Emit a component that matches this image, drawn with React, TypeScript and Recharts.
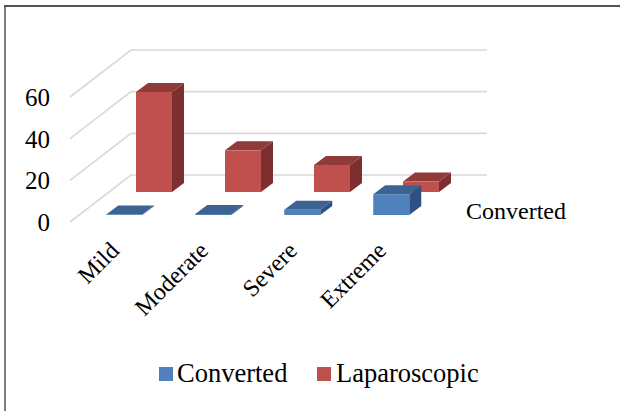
import React from "react";
import { BarChart, Bar, XAxis, YAxis, CartesianGrid, Legend } from "recharts";

const categories = ["Mild", "Moderate", "Severe", "Extreme"];
const converted = [0.3, 0.5, 2.5, 10];
const laparoscopic = [48, 20, 13, 5];
const yTicks = [0, 20, 40, 60];
const rowLabel = "Converted";

const data = categories.map((name, i) => ({ name, Converted: converted[i], Laparoscopic: laparoscopic[i] }));

const FONT = "'Liberation Serif', 'Times New Roman', serif";
const DX = 61;
const DY = -47;

function Bar3D(props: any) {
  const { x, y, width, height, front, top, side, shiftX, shiftY, dx, dy } = props;
  const w = 36;
  const cx = x + width / 2 + shiftX;
  const l = cx - w / 2;
  const r = l + w;
  const t = y + shiftY;
  const b = t + height;
  return (
    <g>
      <polygon points={`${r},${t} ${r + dx},${t + dy} ${r + dx},${b + dy} ${r},${b}`} fill={side} />
      <polygon points={`${l},${t} ${l + dx},${t + dy} ${r + dx},${t + dy} ${r},${t}`} fill={top} />
      <rect x={l} y={t} width={w} height={height} fill={front} />
    </g>
  );
}

function BlueShape(props: any) {
  return <Bar3D {...props} front="#4f81bd" top="#3c6392" side="#2f5080" shiftX={-13.25} shiftY={-7} dx={12} dy={-9} />;
}
function RedShape(props: any) {
  return <Bar3D {...props} front="#c0504d" top="#8f3b39" side="#7c2f2e" shiftX={61.5} shiftY={-30} dx={12} dy={-9} />;
}

function GridLine(props: any) {
  const { x1, x2, y1 } = props;
  return (
    <polyline
      points={`${x1},${y1} ${x1 + DX},${y1 + DY} ${x2 + DX},${y1 + DY}`}
      fill="none"
      stroke="#d9d9d9"
      strokeWidth={1.6}
    />
  );
}

function XTick(props: any) {
  const { x, y, payload } = props;
  const ax = x + 6;
  const ay = y + 22;
  return (
    <text
      x={ax}
      y={ay}
      textAnchor="end"
      fontFamily={FONT}
      fontSize={24}
      fill="#000"
      transform={`rotate(-45 ${ax} ${ay})`}
    >
      {payload.value}
    </text>
  );
}

function LegendBox(props: any) {
  const items = [...(props.payload || [])].sort((a: any, b: any) => String(a.value).localeCompare(String(b.value)));
  return (
    <div style={{ height: 40, position: "relative", fontFamily: FONT, fontSize: 26.5, color: "#000" }}>
      {items.map((it: any, i: number) => (
        <div key={it.value} style={{ position: "absolute", left: i === 0 ? 159 : 317, top: 0, height: 40, whiteSpace: "nowrap" }}>
          <span style={{ position: "absolute", left: 0, top: 12, width: 14, height: 14, background: it.color }} />
          <span style={{ position: "absolute", left: i === 0 ? 18 : 19, top: 3, lineHeight: "31px" }}>{it.value}</span>
        </div>
      ))}
    </div>
  );
}

export default function App() {
  return (
    <div style={{ position: "absolute", left: 0, top: 0, width: 620, height: 411, background: "#fff" }}>
      <div style={{ position: "absolute", left: 4, top: 5, width: 1.5, height: 406, background: "#7f7f7f" }} />
      <div style={{ position: "absolute", left: 4, top: 5, width: 616, height: 1.5, background: "#555" }} />
      <BarChart
        width={620}
        height={411}
        data={data}
        margin={{ top: 97, right: 194, bottom: 109, left: 0 }}
        barCategoryGap={0}
        barGap={0}
      >
        <CartesianGrid vertical={false} horizontal={(p: any) => <GridLine key={p.key} {...p} />} />
        <XAxis
          dataKey="name"
          axisLine={false}
          tickLine={false}
          height={40}
          interval={0}
          tick={<XTick />}
        />
        <YAxis
          width={70}
          domain={[0, 60]}
          ticks={yTicks}
          axisLine={false}
          tickLine={false}
          tickMargin={14}
          tick={{ fontFamily: FONT, fontSize: 25, fill: "#000" }}
        />
        <Legend
          verticalAlign="bottom"
          align="left"
          content={<LegendBox />}
          wrapperStyle={{ bottom: 16, left: 0, width: 620, height: 40 }}
        />
        <Bar dataKey="Laparoscopic" fill="#c0504d" shape={RedShape} isAnimationActive={false} />
        <Bar dataKey="Converted" fill="#4f81bd" shape={BlueShape} isAnimationActive={false} />
        <text x={466} y={219} fontFamily={FONT} fontSize={24} fill="#000">{rowLabel}</text>
      </BarChart>
    </div>
  );
}
